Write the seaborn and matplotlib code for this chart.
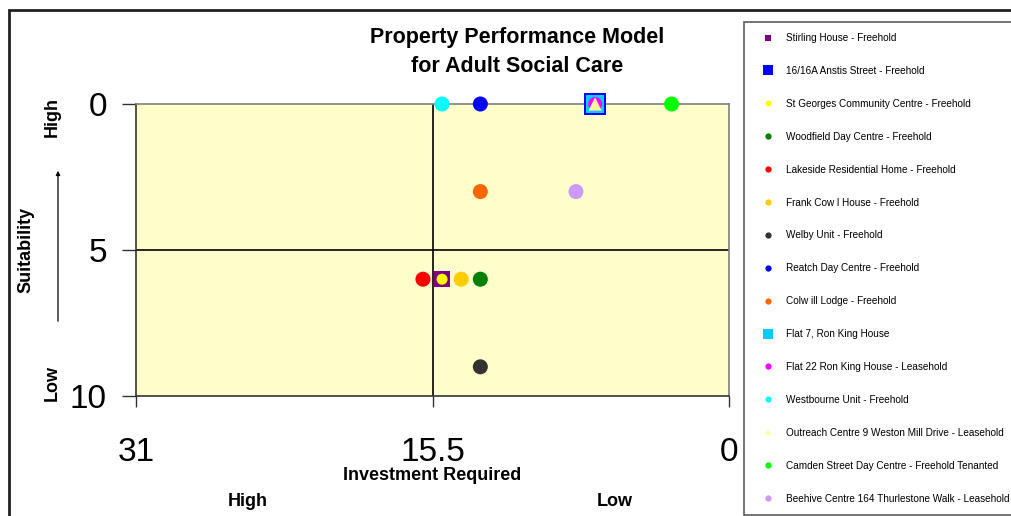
import matplotlib
matplotlib.use("Agg")
import matplotlib.pyplot as plt
from matplotlib.lines import Line2D
from matplotlib.patches import Rectangle
import seaborn as sns
import pandas as pd

# Properties, investment score (0-31) and suitability score (0 best - 10 worst)
names = [
    "Stirling House - Freehold",
    "16/16A Anstis Street - Freehold",
    "St Georges Community Centre - Freehold",
    "Woodfield Day Centre - Freehold",
    "Lakeside Residential Home - Freehold",
    "Frank Cow l House - Freehold",
    "Welby Unit - Freehold",
    "Reatch Day Centre - Freehold",
    "Colw ill Lodge - Freehold",
    "Flat 7, Ron King House",
    "Flat 22 Ron King House - Leasehold",
    "Westbourne Unit - Freehold",
    "Outreach Centre 9 Weston Mill Drive - Leasehold",
    "Camden Street Day Centre - Freehold Tenanted",
    "Beehive Centre 164 Thurlestone Walk - Leasehold",
]
investment = [15, 7, 15, 13, 16, 14, 13, 13, 13, 7, 7, 15, 7, 3, 8]
suitability = [6, 0, 6, 6, 6, 6, 9, 0, 3, 0, 0, 0, 0, 0, 3]

colors = ["#800080", "#0000FF", "#FFFF00", "#008000", "#FF0000", "#FFCC00",
          "#333333", "#0000FF", "#FF6600", "#00CCFF", "#FF00FF", "#00FFFF",
          "#FFFF99", "#00FF00", "#CC99FF"]
markers = ["s", "s", "o", "o", "o", "o", "o", "o", "o", "s", "o", "o", "^", "o", "o"]
plot_sizes = [125, 235, 63, 117, 117, 117, 117, 117, 117, 155, 101, 117, 90, 117, 117]
legend_sizes = [4, 6.5, 4.5, 4.5, 4.5, 4.5, 4.5, 4.5, 4.5, 7, 4.5, 4.5, 5, 4.5, 4.5]

x_ticks = [31, 15.5, 0]
x_tick_labels = ["31", "15.5", "0"]
y_ticks = [0, 5, 10]
y_tick_labels = ["0", "5", "10"]

df = pd.DataFrame({"name": names, "investment": investment, "suitability": suitability})

sns.set_style("white")
plt.rcParams["font.family"] = ["Liberation Sans", "DejaVu Sans"]
plt.rcParams["text.color"] = "black"

W, H = 1011, 516
fig = plt.figure(figsize=(W / 100, H / 100), dpi=100)
fig.patch.set_facecolor("white")

def fx(px):
    return px / W

def fy(py):
    return 1 - py / H

ax = fig.add_axes([fx(136), fy(396), fx(729) - fx(136), fy(104) - fy(396)])
ax.set_facecolor("#FFFFCC")

ax.axvline(15.5, color="black", lw=1.2, zorder=1)
ax.axhline(5, color="black", lw=1.2, zorder=1)

sns.scatterplot(
    data=df, x="investment", y="suitability",
    hue="name", palette=dict(zip(names, colors)),
    style="name", markers=dict(zip(names, markers)),
    size="name", sizes=dict(zip(names, plot_sizes)),
    linewidth=0, edgecolor="none", legend=False, ax=ax, zorder=3,
)
for coll in ax.collections:
    coll.set_clip_on(False)

ax.set_xlim(31, 0)
ax.set_ylim(10, 0)
ax.set_xticks(x_ticks)
ax.set_xticklabels(x_tick_labels)
ax.set_yticks(y_ticks)
ax.set_yticklabels(y_tick_labels)
ax.set_xlabel("")
ax.set_ylabel("")
ax.tick_params(axis="x", direction="out", length=8, width=1, color="#333333",
               labelsize=24, pad=21.5, bottom=True, labelcolor="black")
ax.tick_params(axis="y", direction="out", length=10, width=1, color="#333333",
               labelsize=24, pad=11, left=True, labelcolor="black")

for side in ["left", "bottom"]:
    ax.spines[side].set_color("#333333")
    ax.spines[side].set_linewidth(1.2)
for side in ["top", "right"]:
    ax.spines[side].set_color("#808080")
    ax.spines[side].set_linewidth(1.2)

# Outer chart frame
fig.patches.append(Rectangle((fx(8.5), -0.2), 1.2, fy(10) + 0.2, transform=fig.transFigure,
                             fill=False, edgecolor="#222222", lw=2, clip_on=False))

fig.text(fx(517), fy(38), "Property Performance Model", ha="center", va="center",
         fontsize=15.5, fontweight="bold")
fig.text(fx(517), fy(67), "for Adult Social Care", ha="center", va="center",
         fontsize=15.5, fontweight="bold")

fig.text(fx(432), fy(476), "Investment Required", ha="center", va="center",
         fontsize=13, fontweight="bold")
fig.text(fx(248), fy(501), "High", ha="center", va="center", fontsize=13, fontweight="bold")
fig.text(fx(615), fy(501), "Low", ha="center", va="center", fontsize=13, fontweight="bold")

fig.text(fx(26), fy(250), "Suitability", ha="center", va="center", rotation=90,
         fontsize=13, fontweight="bold")
fig.text(fx(52), fy(117), "High", ha="center", va="center", rotation=90,
         fontsize=13, fontweight="bold")
fig.text(fx(52), fy(383), "Low", ha="center", va="center", rotation=90,
         fontsize=13, fontweight="bold")
fig.add_artist(plt.Annotation("", xy=(fx(58), fy(168)), xytext=(fx(58), fy(324)),
                              xycoords="figure fraction", textcoords="figure fraction",
                              arrowprops=dict(arrowstyle="-|>", color="black", lw=0.9,
                                              mutation_scale=6)))

handles = [Line2D([], [], linestyle="none", marker=m, color=c, markerfacecolor=c,
                  markeredgewidth=0, markersize=s)
           for m, c, s in zip(markers, colors, legend_sizes)]
leg = fig.legend(handles, names, loc="upper left", bbox_to_anchor=(fx(744), fy(22)),
                 bbox_transform=fig.transFigure, borderaxespad=0, frameon=True,
                 fancybox=False, edgecolor="#333333", fontsize=7.2, borderpad=1.1,
                 handlelength=2.6, handletextpad=0.45, labelspacing=2.29)
leg.get_frame().set_linewidth(1.2)
for t in leg.get_texts():
    t.set_color("black")

fig.savefig("out.png", dpi=100, facecolor="white")
